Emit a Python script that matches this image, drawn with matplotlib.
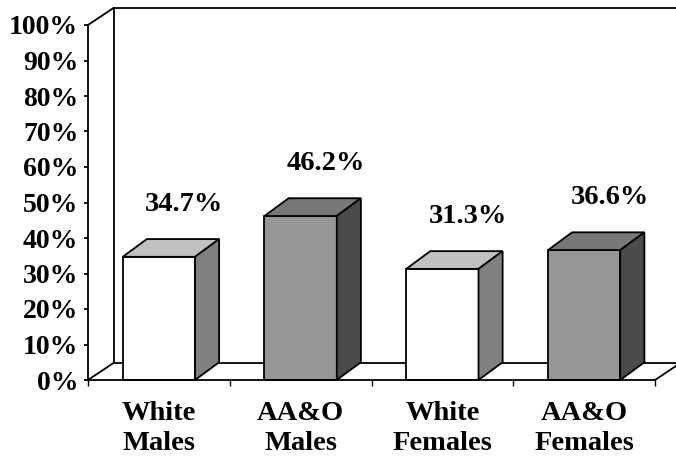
import matplotlib
matplotlib.use("Agg")
import matplotlib.pyplot as plt
from matplotlib.patches import Polygon

# Data
categories = ["White\nMales", "AA&O\nMales", "White\nFemales", "AA&O\nFemales"]
values = [34.7, 46.2, 31.3, 36.6]
value_labels = ["34.7%", "46.2%", "31.3%", "36.6%"]
y_ticks = list(range(0, 101, 10))
y_tick_labels = [f"{t}%" for t in y_ticks]

# Face colours (front, top, side) per bar
front_colors = ["#ffffff", "#969696", "#ffffff", "#969696"]
top_colors = ["#c0c0c0", "#777777", "#c0c0c0", "#777777"]
side_colors = ["#808080", "#4b4b4b", "#808080", "#4b4b4b"]

plt.rcParams["font.family"] = ["Liberation Serif", "DejaVu Serif"]
plt.rcParams["font.weight"] = "bold"

W, H = 676, 463
fig = plt.figure(figsize=(W / 100, H / 100), dpi=100)
ax = fig.add_axes([88 / W, (H - 380) / H, 567 / W, 355 / H])
ax.set_xlim(0, len(categories))
ax.set_ylim(0, 100)

# 3-D depth offsets in data units
wall_dx, wall_dy = 0.18, 4.8
bar_dx, bar_dy = 0.17, 5.0
bar_w = 0.51
lw = 1.3
ec = "black"

# Back wall and floor outline
n = len(categories)
ext = n + 0.6
ax.plot([wall_dx, wall_dx], [wall_dy, 100 + wall_dy], color=ec, lw=lw, clip_on=False, zorder=1)
ax.plot([wall_dx, ext], [100 + wall_dy, 100 + wall_dy], color=ec, lw=lw, clip_on=False, zorder=1)
ax.plot([0, wall_dx], [100, 100 + wall_dy], color=ec, lw=lw, clip_on=False, zorder=1)
ax.plot([0, wall_dx], [0, wall_dy], color=ec, lw=lw, clip_on=False, zorder=1)
ax.plot([wall_dx, ext], [wall_dy, wall_dy], color=ec, lw=lw, clip_on=False, zorder=1)
ax.plot([n, n + wall_dx * 1.3], [0, wall_dy * 1.3], color=ec, lw=lw, clip_on=False, zorder=1)

# Bars: front face via bar(), top and side as polygons
centers = [i + 0.5 for i in range(n)]
ax.bar(centers, values, width=bar_w, color=front_colors, edgecolor=ec,
       linewidth=lw, zorder=3, clip_on=False)
for c, v, tc, sc in zip(centers, values, top_colors, side_colors):
    x0, x1 = c - bar_w / 2, c + bar_w / 2
    top = Polygon([(x0, v), (x1, v), (x1 + bar_dx, v + bar_dy), (x0 + bar_dx, v + bar_dy)],
                  closed=True, facecolor=tc, edgecolor=ec, linewidth=lw, zorder=3,
                  clip_on=False)
    side = Polygon([(x1, 0), (x1 + bar_dx, bar_dy), (x1 + bar_dx, v + bar_dy), (x1, v)],
                   closed=True, facecolor=sc, edgecolor=ec, linewidth=lw, zorder=3,
                   clip_on=False)
    ax.add_patch(top)
    ax.add_patch(side)

# Value labels
for c, v, lab in zip(centers, values, value_labels):
    ax.text(c + 0.18, v + 14.8, lab, ha="center", va="center",
            fontsize=20.5, fontweight="bold", zorder=5)

# Axes styling
for s in ["top", "right"]:
    ax.spines[s].set_visible(False)
for s in ["left", "bottom"]:
    ax.spines[s].set_linewidth(lw)
    ax.spines[s].set_zorder(4)

ax.set_yticks(y_ticks)
ax.set_yticklabels(y_tick_labels, fontsize=20, fontweight="bold")
ax.tick_params(axis="y", direction="out", length=3, width=lw, pad=4)

ax.set_xticks(range(n + 1))
ax.set_xticklabels([])
ax.tick_params(axis="x", which="major", direction="out", length=4, width=1.0)
ax.set_xticks(centers, minor=True)
ax.set_xticklabels(categories, minor=True, fontsize=20.5, fontweight="bold",
                   linespacing=1.25)
ax.tick_params(axis="x", which="minor", length=0, pad=15)
ax.patch.set_visible(False)

fig.savefig("out.png", dpi=100)
